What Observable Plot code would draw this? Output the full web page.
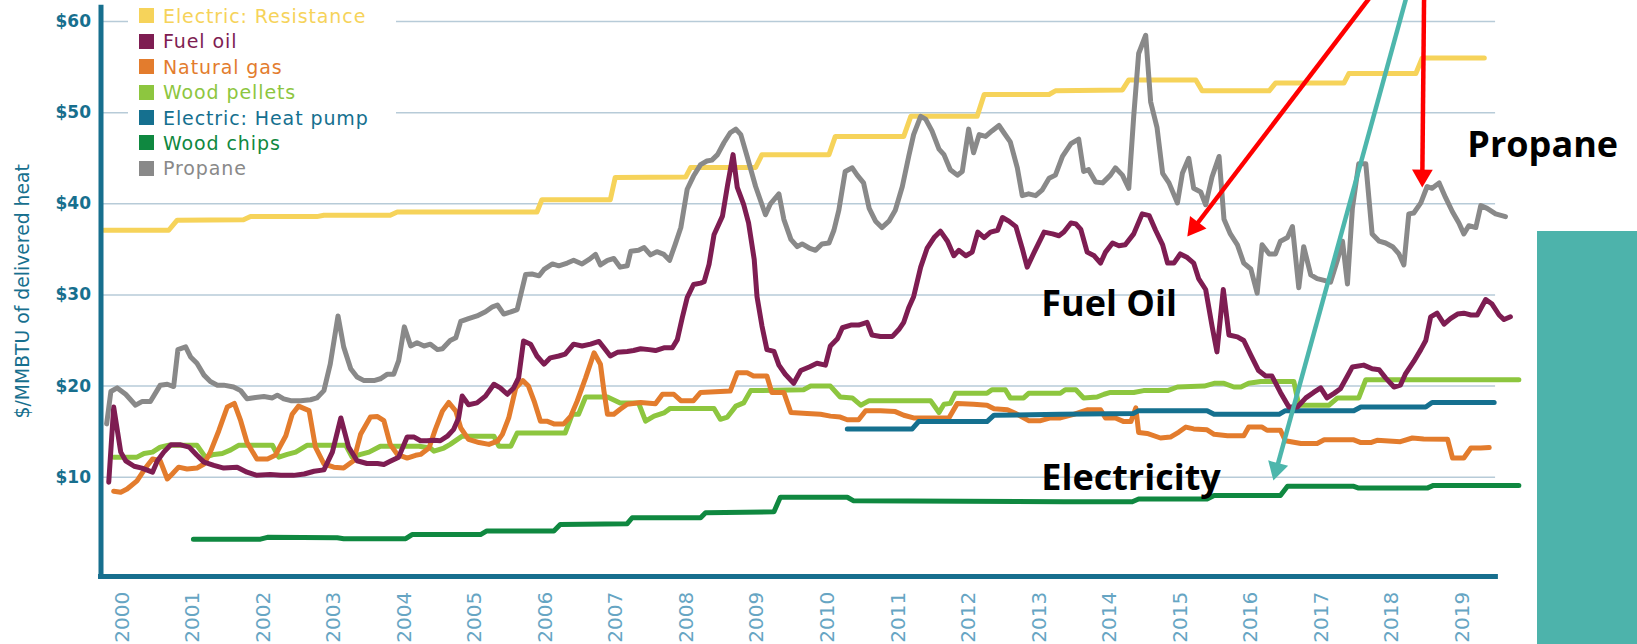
<!DOCTYPE html>
<html><head><meta charset="utf-8">
<script src="https://cdn.jsdelivr.net/npm/d3@7"></script>
<script src="https://cdn.jsdelivr.net/npm/@observablehq/plot@0.6"></script>
<style>
html,body{margin:0;padding:0;background:#fff;overflow:hidden;}
#wrap{position:relative;width:1637px;height:644px;}
#chart svg{display:block;}
#legend{position:absolute;left:128px;top:0;width:268px;height:182px;background:#fff;}
.item{position:absolute;left:0;height:25px;display:flex;align-items:center;font-family:"DejaVu Sans";font-size:19px;letter-spacing:0.9px;white-space:nowrap;}
.sw{display:inline-block;width:15px;height:15px;margin-left:11px;margin-right:9px;flex:none;}
#teal{position:absolute;left:1537px;top:231px;width:100px;height:413px;background:#4db3ab;}
</style></head>
<body><div id="wrap"><div id="chart"></div><div id="legend"></div><div id="teal"></div></div>
<script>
// ---- categories / labels ----
const seriesNames = ["Electric: Resistance","Fuel oil","Natural gas","Wood pellets","Electric: Heat pump","Wood chips","Propane"];
const seriesColors = ["#f6d35a","#7e1d52","#e37c2d","#8dc63f","#15708f","#0f8840","#898989"];
const yearTicks = [2000,2001,2002,2003,2004,2005,2006,2007,2008,2009,2010,2011,2012,2013,2014,2015,2016,2017,2018,2019];
const yTicks = [10,20,30,40,50,60];
const yTitle = "$/MMBTU of delivered heat";

// ---- series values: [year, $/MMBTU] ----
const resistance = [[1999.74,37.1],[2000.66,37.1],[2000.78,38.2],[2001.72,38.25],[2001.82,38.6],[2002.76,38.6],[2002.86,38.75],[2003.80,38.75],[2003.90,39.1],[2005.88,39.1],[2005.95,40.45],[2006.92,40.45],[2006.99,42.9],[2007.99,42.95],[2008.06,44.0],[2008.98,44.0],[2009.07,45.4],[2010.02,45.4],[2010.11,47.4],[2011.08,47.4],[2011.18,49.6],[2012.12,49.6],[2012.22,52.0],[2013.14,52.0],[2013.23,52.4],[2014.18,52.5],[2014.27,53.6],[2015.22,53.6],[2015.31,52.4],[2016.26,52.4],[2016.35,53.25],[2017.32,53.25],[2017.39,54.3],[2018.34,54.3],[2018.43,56.0],[2019.31,56.0]];

const fuelOil = [[1999.81,9.45],[1999.88,17.7],[1999.98,12.75],[2000.05,11.8],[2000.17,11.2],[2000.28,11.0],[2000.43,10.55],[2000.50,11.8],[2000.59,12.75],[2000.69,13.55],[2000.83,13.55],[2000.95,13.3],[2001.06,12.4],[2001.16,11.65],[2001.30,11.3],[2001.44,11.0],[2001.63,11.1],[2001.77,10.55],[2001.91,10.2],[2002.10,10.3],[2002.25,10.2],[2002.43,10.2],[2002.58,10.35],[2002.72,10.65],[2002.86,10.8],[2002.98,12.75],[2003.10,16.5],[2003.21,13.3],[2003.33,11.8],[2003.47,11.5],[2003.62,11.5],[2003.71,11.4],[2003.80,11.75],[2003.92,12.2],[2004.04,14.4],[2004.14,14.4],[2004.23,14.0],[2004.32,14.0],[2004.42,14.05],[2004.51,14.0],[2004.61,14.5],[2004.70,15.25],[2004.77,16.5],[2004.82,18.9],[2004.91,17.95],[2005.03,18.15],[2005.15,18.9],[2005.27,20.2],[2005.36,19.8],[2005.46,19.1],[2005.55,19.8],[2005.62,20.9],[2005.69,24.95],[2005.79,24.6],[2005.88,23.3],[2005.98,22.4],[2006.07,23.1],[2006.19,23.3],[2006.28,23.5],[2006.40,24.6],[2006.52,24.4],[2006.64,24.6],[2006.76,24.9],[2006.83,24.2],[2006.92,23.3],[2007.02,23.7],[2007.16,23.8],[2007.25,23.9],[2007.35,24.1],[2007.47,24.0],[2007.56,23.9],[2007.68,24.2],[2007.80,24.2],[2007.87,25.1],[2007.94,27.5],[2008.01,29.7],[2008.10,31.15],[2008.20,31.3],[2008.25,31.45],[2008.32,33.35],[2008.39,36.6],[2008.51,38.65],[2008.58,41.95],[2008.66,45.4],[2008.72,41.8],[2008.81,39.95],[2008.88,37.9],[2008.96,33.9],[2009.00,29.8],[2009.07,26.6],[2009.14,24.0],[2009.24,23.8],[2009.31,22.3],[2009.40,21.3],[2009.52,20.3],[2009.62,21.7],[2009.74,22.1],[2009.85,22.5],[2009.97,22.3],[2010.04,24.4],[2010.14,25.2],[2010.21,26.4],[2010.33,26.7],[2010.44,26.7],[2010.56,27.0],[2010.63,25.6],[2010.75,25.45],[2010.92,25.45],[2011.01,26.2],[2011.08,27.0],[2011.15,28.6],[2011.22,29.8],[2011.32,33.05],[2011.41,35.1],[2011.51,36.3],[2011.60,37.0],[2011.70,35.9],[2011.79,34.3],[2011.86,34.9],[2011.96,34.3],[2012.05,34.7],[2012.13,36.9],[2012.22,36.3],[2012.31,36.9],[2012.41,37.1],[2012.48,38.5],[2012.57,38.1],[2012.67,37.5],[2012.76,35.1],[2012.83,33.05],[2012.93,34.7],[2013.07,36.9],[2013.19,36.7],[2013.28,36.5],[2013.35,36.9],[2013.45,37.9],[2013.52,37.8],[2013.59,37.2],[2013.68,34.7],[2013.78,34.3],[2013.87,33.5],[2013.94,34.7],[2014.04,35.7],[2014.13,35.4],[2014.22,35.5],[2014.34,36.7],[2014.46,38.9],[2014.56,38.7],[2014.65,37.1],[2014.75,35.5],[2014.82,33.5],[2014.91,33.5],[2015.00,34.5],[2015.10,34.1],[2015.19,33.5],[2015.26,31.8],[2015.36,30.6],[2015.45,26.6],[2015.52,23.75],[2015.61,30.6],[2015.69,25.6],[2015.81,25.4],[2015.90,25.0],[2016.00,23.4],[2016.11,21.7],[2016.21,21.1],[2016.30,21.1],[2016.42,19.3],[2016.54,17.7],[2016.66,17.7],[2016.78,18.7],[2016.89,19.3],[2016.99,19.8],[2017.08,18.7],[2017.18,19.2],[2017.27,19.7],[2017.37,21.1],[2017.44,22.1],[2017.60,22.3],[2017.72,21.9],[2017.82,21.8],[2017.91,20.9],[2018.03,19.9],[2018.12,20.1],[2018.19,21.3],[2018.31,22.7],[2018.41,24.0],[2018.48,25.0],[2018.55,27.6],[2018.64,28.0],[2018.74,26.8],[2018.83,27.4],[2018.93,27.9],[2019.02,28.0],[2019.12,27.8],[2019.21,27.8],[2019.33,29.5],[2019.42,29.0],[2019.52,27.8],[2019.59,27.3],[2019.68,27.6]];

const naturalGas = [[1999.88,8.46],[1999.98,8.35],[2000.07,8.7],[2000.21,9.6],[2000.33,11.0],[2000.43,12.0],[2000.54,11.8],[2000.64,9.8],[2000.71,10.35],[2000.80,11.1],[2000.92,10.9],[2001.06,11.0],[2001.16,11.45],[2001.25,12.75],[2001.37,15.1],[2001.49,17.7],[2001.59,18.1],[2001.68,16.2],[2001.77,13.8],[2001.91,12.0],[2002.06,12.0],[2002.17,12.4],[2002.32,14.55],[2002.41,16.9],[2002.50,17.8],[2002.65,17.3],[2002.74,13.3],[2002.86,11.45],[2003.00,11.1],[2003.14,11.0],[2003.28,11.8],[2003.38,14.7],[2003.52,16.6],[2003.62,16.65],[2003.71,16.2],[2003.80,13.6],[2003.90,12.5],[2004.04,12.1],[2004.16,12.4],[2004.23,12.5],[2004.35,13.2],[2004.44,15.25],[2004.54,17.25],[2004.63,18.2],[2004.73,17.25],[2004.80,15.4],[2004.91,14.15],[2005.06,13.8],[2005.20,13.6],[2005.32,13.95],[2005.39,14.7],[2005.48,16.5],[2005.58,19.8],[2005.68,20.6],[2005.76,20.0],[2005.84,18.35],[2005.93,16.15],[2006.02,16.15],[2006.12,15.85],[2006.26,15.85],[2006.36,16.7],[2006.45,18.35],[2006.57,20.9],[2006.69,23.65],[2006.78,22.4],[2006.83,19.45],[2006.88,16.9],[2006.97,16.9],[2007.06,17.45],[2007.16,18.0],[2007.35,18.2],[2007.56,18.05],[2007.66,19.1],[2007.82,19.1],[2007.92,18.4],[2008.10,18.4],[2008.20,19.3],[2008.62,19.45],[2008.72,21.45],[2008.86,21.45],[2008.95,21.1],[2009.14,21.1],[2009.21,19.3],[2009.38,19.3],[2009.48,17.1],[2009.71,17.0],[2009.90,16.9],[2010.04,16.7],[2010.18,16.6],[2010.28,16.3],[2010.44,16.3],[2010.54,17.3],[2010.75,17.3],[2010.96,17.2],[2011.08,16.8],[2011.22,16.5],[2011.72,16.5],[2011.84,18.1],[2012.07,18.0],[2012.26,17.9],[2012.36,17.5],[2012.55,17.4],[2012.69,16.9],[2012.85,16.2],[2013.02,16.2],[2013.16,16.5],[2013.30,16.5],[2013.49,16.9],[2013.68,17.4],[2013.87,17.4],[2013.94,16.5],[2014.08,16.5],[2014.20,16.1],[2014.30,16.1],[2014.37,17.6],[2014.41,14.9],[2014.53,14.8],[2014.72,14.3],[2014.86,14.4],[2014.98,14.95],[2015.08,15.5],[2015.19,15.3],[2015.38,15.2],[2015.48,14.7],[2015.67,14.55],[2015.90,14.55],[2015.97,15.5],[2016.16,15.5],[2016.23,15.15],[2016.42,15.15],[2016.49,14.0],[2016.71,13.7],[2016.94,13.7],[2017.04,14.1],[2017.46,14.1],[2017.56,13.8],[2017.70,13.8],[2017.79,14.05],[2018.12,13.9],[2018.29,14.3],[2018.45,14.2],[2018.79,14.15],[2018.86,12.1],[2019.02,12.1],[2019.12,13.2],[2019.26,13.2],[2019.38,13.25]];

const woodPellets = [[1999.88,12.2],[2000.21,12.2],[2000.31,12.6],[2000.43,12.75],[2000.54,13.3],[2000.66,13.5],[2001.06,13.5],[2001.18,12.2],[2001.30,12.5],[2001.42,12.6],[2001.54,13.0],[2001.65,13.5],[2002.13,13.5],[2002.22,12.2],[2002.34,12.5],[2002.46,12.75],[2002.62,13.5],[2003.17,13.5],[2003.26,12.2],[2003.38,12.5],[2003.50,12.75],[2003.66,13.4],[2004.21,13.4],[2004.37,13.2],[2004.42,12.85],[2004.56,13.2],[2004.65,13.6],[2004.82,14.5],[2005.27,14.5],[2005.34,13.4],[2005.51,13.4],[2005.60,14.85],[2006.28,14.85],[2006.38,16.9],[2006.47,16.9],[2006.57,18.8],[2006.88,18.8],[2007.06,18.15],[2007.32,18.15],[2007.42,16.15],[2007.54,16.7],[2007.68,17.05],[2007.77,17.55],[2008.39,17.55],[2008.48,16.35],[2008.58,16.6],[2008.70,17.8],[2008.81,18.15],[2008.91,19.5],[2009.66,19.6],[2009.76,20.0],[2010.04,20.0],[2010.18,18.8],[2010.35,18.7],[2010.47,17.9],[2010.59,18.4],[2011.46,18.4],[2011.58,17.1],[2011.65,18.0],[2011.74,18.1],[2011.81,19.2],[2012.26,19.2],[2012.33,19.6],[2012.52,19.6],[2012.59,18.7],[2012.78,18.7],[2012.85,19.2],[2013.30,19.2],[2013.37,19.6],[2013.52,19.6],[2013.63,18.7],[2013.82,18.8],[2013.92,19.1],[2014.01,19.3],[2014.34,19.3],[2014.48,19.5],[2014.82,19.5],[2014.96,19.9],[2015.34,20.0],[2015.48,20.3],[2015.62,20.3],[2015.76,19.9],[2015.86,19.9],[2015.97,20.3],[2016.14,20.5],[2016.61,20.5],[2016.68,17.9],[2017.11,17.9],[2017.23,18.7],[2017.53,18.7],[2017.63,20.7],[2019.80,20.7]];

const heatPump = [[2010.28,15.3],[2011.20,15.3],[2011.29,16.1],[2012.26,16.1],[2012.36,16.8],[2013.30,16.9],[2014.34,17.0],[2014.41,17.3],[2015.38,17.3],[2015.48,16.9],[2016.40,16.9],[2016.49,17.3],[2017.46,17.3],[2017.56,17.7],[2018.48,17.7],[2018.57,18.2],[2019.45,18.2]];

const woodChips = [[2001.01,3.2],[2001.96,3.2],[2002.06,3.4],[2003.05,3.35],[2003.14,3.25],[2004.02,3.25],[2004.11,3.7],[2005.08,3.7],[2005.17,4.1],[2006.12,4.1],[2006.21,4.8],[2007.16,4.9],[2007.23,5.55],[2008.20,5.55],[2008.27,6.1],[2009.24,6.2],[2009.33,7.8],[2010.28,7.8],[2010.37,7.4],[2013.35,7.3],[2014.32,7.3],[2014.41,7.6],[2015.38,7.6],[2015.48,8.0],[2016.42,8.0],[2016.52,9.0],[2017.46,9.0],[2017.53,8.8],[2018.50,8.8],[2018.59,9.1],[2019.80,9.1]];

const propane = [[1999.78,15.85],[1999.84,19.4],[1999.93,19.8],[2000.05,19.1],[2000.19,17.9],[2000.28,18.3],[2000.40,18.3],[2000.54,20.1],[2000.64,20.2],[2000.73,19.95],[2000.79,24.0],[2000.90,24.3],[2000.97,23.2],[2001.06,22.5],[2001.16,21.2],[2001.25,20.5],[2001.35,20.1],[2001.44,20.1],[2001.58,19.9],[2001.68,19.5],[2001.77,18.6],[2001.89,18.75],[2002.01,18.85],[2002.13,18.7],[2002.20,19.0],[2002.29,18.6],[2002.39,18.4],[2002.53,18.4],[2002.67,18.5],[2002.76,18.7],[2002.86,19.5],[2002.95,22.4],[2003.06,27.7],[2003.14,24.3],[2003.24,21.9],[2003.33,21.0],[2003.43,20.6],[2003.57,20.6],[2003.66,20.8],[2003.76,21.3],[2003.85,21.3],[2003.92,22.8],[2004.00,26.5],[2004.09,24.4],[2004.18,24.75],[2004.28,24.4],[2004.37,24.6],[2004.47,24.0],[2004.54,24.1],[2004.65,25.0],[2004.73,25.3],[2004.80,27.1],[2004.91,27.4],[2005.03,27.7],[2005.15,28.15],[2005.25,28.7],[2005.32,28.9],[2005.41,27.9],[2005.51,28.15],[2005.60,28.4],[2005.72,32.25],[2005.81,32.3],[2005.91,32.1],[2005.98,32.8],[2006.10,33.4],[2006.19,33.2],[2006.31,33.5],[2006.40,33.8],[2006.52,33.4],[2006.62,33.9],[2006.71,34.45],[2006.78,33.3],[2006.88,33.8],[2006.97,34.0],[2007.06,33.05],[2007.16,33.2],[2007.21,34.8],[2007.32,34.9],[2007.40,35.2],[2007.49,34.4],[2007.58,34.75],[2007.68,34.45],[2007.76,33.8],[2007.84,35.55],[2007.92,37.4],[2008.01,41.6],[2008.10,43.05],[2008.20,44.3],[2008.29,44.7],[2008.36,44.8],[2008.44,45.4],[2008.53,46.7],[2008.62,47.8],[2008.70,48.2],[2008.77,47.6],[2008.86,45.2],[2008.98,41.9],[2009.12,38.8],[2009.19,40.0],[2009.31,41.1],[2009.38,38.3],[2009.48,36.1],[2009.57,35.3],[2009.64,35.6],[2009.74,35.15],[2009.83,34.9],[2009.92,35.6],[2010.02,35.7],[2010.09,37.1],[2010.16,39.3],[2010.25,43.55],[2010.35,43.95],[2010.42,43.15],[2010.51,42.3],[2010.59,39.5],[2010.68,38.1],[2010.77,37.4],[2010.87,38.1],[2010.96,39.3],[2011.06,41.9],[2011.15,45.2],[2011.22,47.6],[2011.32,49.6],[2011.39,49.3],[2011.48,48.0],[2011.58,46.0],[2011.65,45.4],[2011.74,43.75],[2011.84,43.15],[2011.91,43.55],[2012.00,48.2],[2012.07,45.6],[2012.15,47.6],[2012.24,47.4],[2012.33,48.0],[2012.43,48.6],[2012.50,47.8],[2012.59,46.8],[2012.69,43.95],[2012.76,40.9],[2012.85,41.1],[2012.95,40.9],[2013.04,41.5],[2013.14,42.8],[2013.23,43.15],[2013.33,45.2],[2013.45,46.6],[2013.56,47.1],[2013.63,43.55],[2013.70,43.75],[2013.80,42.4],[2013.90,42.3],[2014.01,43.15],[2014.08,43.95],[2014.18,43.15],[2014.27,41.7],[2014.34,49.6],[2014.41,56.5],[2014.51,58.5],[2014.58,51.2],[2014.67,48.4],[2014.75,43.35],[2014.84,42.3],[2014.96,40.1],[2015.03,43.35],[2015.12,45.0],[2015.19,41.7],[2015.29,41.3],[2015.36,39.9],[2015.45,42.95],[2015.55,45.2],[2015.62,38.3],[2015.71,36.7],[2015.81,35.5],[2015.90,33.5],[2016.00,32.85],[2016.09,30.2],[2016.16,35.5],[2016.26,34.5],[2016.35,34.5],[2016.42,35.9],[2016.52,36.3],[2016.59,37.5],[2016.68,30.8],[2016.75,35.3],[2016.85,32.2],[2016.94,31.8],[2017.04,31.6],[2017.13,31.4],[2017.23,33.9],[2017.30,35.9],[2017.37,31.2],[2017.44,39.5],[2017.53,44.4],[2017.63,44.4],[2017.72,36.7],[2017.82,35.9],[2017.91,35.7],[2018.01,35.3],[2018.10,34.5],[2018.17,33.3],[2018.24,38.9],[2018.31,39.0],[2018.41,40.1],[2018.50,41.9],[2018.57,41.7],[2018.67,42.3],[2018.76,40.7],[2018.86,39.1],[2018.95,37.9],[2019.02,36.7],[2019.09,37.6],[2019.19,37.4],[2019.26,39.8],[2019.35,39.5],[2019.47,38.9],[2019.61,38.6]];

// ---- annotations ----
const labels = [
  {text: "Propane", x: 2019.07, y: 46.36},
  {text: "Fuel Oil", x: 2013.03, y: 29.01},
  {text: "Electricity", x: 2013.03, y: 9.91}
];
const arrowSpecs = [
  {x1: 2017.98, y1: 65.61, x2: 2015.10, y2: 36.41, color: "#ff0000"},
  {x1: 2018.46, y1: 65.61, x2: 2018.43, y2: 41.79, color: "#ff0000"},
  {x1: 2018.31, y1: 65.61, x2: 2016.32, y2: 9.64, color: "#4db6ac"}
];

// ---- build ----
const seriesData = [resistance, fuelOil, naturalGas, woodPellets, heatPump, woodChips, propane];
const drawOrder = [0, 3, 2, 4, 5, 1, 6];
const table = drawOrder.flatMap(i => seriesData[i].map(([t, v]) => ({series: seriesNames[i], t, v})));

const W = 1637, H = 644, mL = 100.5, mR = 139.8, mT = 21.1, mB = 76.2;
const xDomain = [1999.7, 2019.5], yDomain = [0, 60];
const axisColor = "#176f8e", gridColor = "#b7cbd8", tickColor = "#66a5c3";

const xs = Plot.scale({x: {domain: xDomain, range: [mL, W - mR]}});
const ys = Plot.scale({y: {domain: yDomain, range: [H - mB, mT]}});
const headBack = 12;
const arrows = arrowSpecs.map(a => {
  const sx = xs.apply(a.x1), sy = ys.apply(a.y1), tx = xs.apply(a.x2), ty = ys.apply(a.y2);
  const len = Math.hypot(tx - sx, ty - sy), ux = (tx - sx) / len, uy = (ty - sy) / len;
  return {...a, cx: xs.invert(tx - headBack * ux), cy: ys.invert(ty - headBack * uy),
          rot: Math.atan2(ux, -uy) * 180 / Math.PI};
});

const arrowMarks = arrows.flatMap(a => [
  Plot.link([a], {x1: "x1", y1: "y1", x2: "cx", y2: "cy", stroke: a.color, strokeWidth: 4.5}),
  Plot.dot([a], {x: "cx", y: "cy", r: 7.7, symbol: "triangle", rotate: a.rot, fill: a.color, stroke: "none"})
]);

const chart = Plot.plot({
  width: W, height: H,
  marginLeft: mL, marginRight: mR, marginTop: mT, marginBottom: mB,
  x: {domain: xDomain, axis: null},
  y: {domain: yDomain, axis: null},
  color: {domain: seriesNames, range: seriesColors},
  style: {fontFamily: "DejaVu Sans", background: "white"},
  marks: [
    Plot.ruleY(yTicks, {x1: 1999.73, x2: 2019.47, stroke: gridColor, strokeWidth: 1.5}),
    Plot.line(table, {x: "t", y: "v", z: "series", stroke: "series", strokeWidth: 5, strokeLinejoin: "round"}),
    Plot.ruleX([1999.70], {y1: -1.18, y2: 61.8, stroke: axisColor, strokeWidth: 5}),
    Plot.ruleY([-0.9], {x1: 1999.665, x2: 2019.51, stroke: axisColor, strokeWidth: 5}),
    Plot.text(yTicks, {y: d => d, frameAnchor: "left", dx: -10, textAnchor: "end", text: d => "$" + d,
      fontWeight: "bold", fontSize: 17, fill: axisColor}),
    Plot.text(yearTicks, {x: d => d, frameAnchor: "bottom", dy: 23.5, rotate: -90, textAnchor: "end",
      lineAnchor: "middle", text: d => String(d), fontSize: 20, fill: tickColor}),
    Plot.text([yTitle], {frameAnchor: "left", y: () => 30.4, dx: -78.5, rotate: -90, text: d => d,
      textAnchor: "middle", lineAnchor: "middle", fontSize: 18.8, fill: axisColor}),
    Plot.text(labels, {x: "x", y: "y", text: "text", textAnchor: "start", lineAnchor: "middle",
      fontFamily: "Open Sans", fontWeight: "bold", fontSize: 36, fill: "#000"}),
    ...arrowMarks
  ]
});
document.getElementById("chart").appendChild(chart);

// legend (HTML, overlaid top-left like the original)
const legend = document.getElementById("legend");
seriesNames.forEach((name, i) => {
  const row = document.createElement("div");
  row.className = "item";
  row.style.top = (3.2 + i * 25.45) + "px";
  row.style.color = seriesColors[i];
  const sw = document.createElement("span");
  sw.className = "sw"; sw.style.background = seriesColors[i];
  const tx = document.createElement("span");
  tx.textContent = name;
  row.appendChild(sw); row.appendChild(tx);
  legend.appendChild(row);
});
</script></body></html>
